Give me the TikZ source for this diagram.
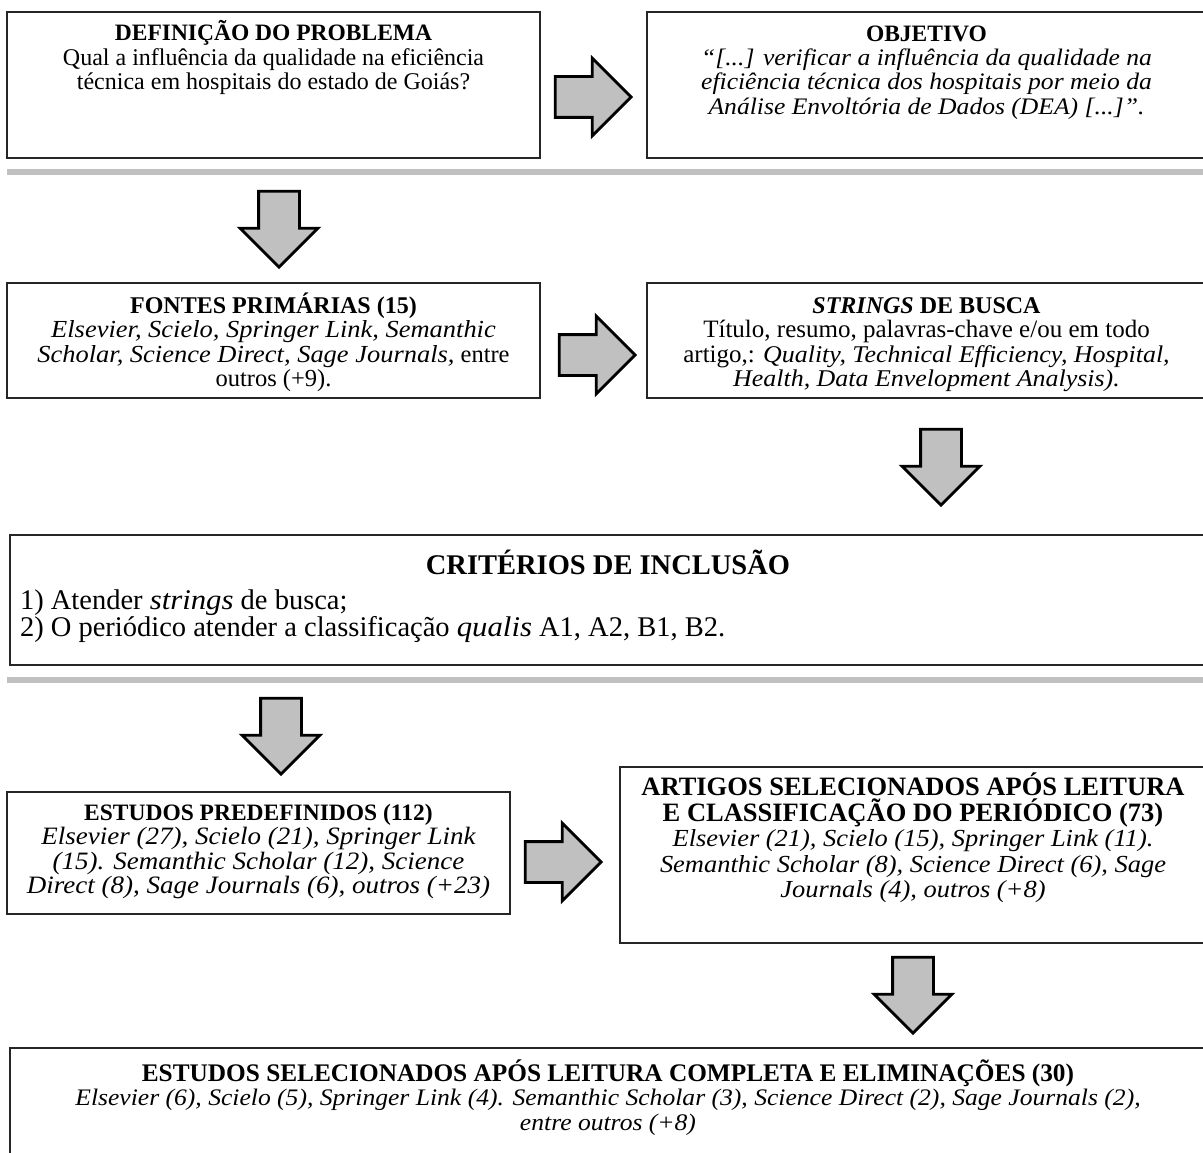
\documentclass[tikz,border=0pt]{standalone}
\usepackage{fontspec}
\setmainfont{Liberation Serif}[ItalicFeatures={FakeStretch=1.08}]
\usetikzlibrary{shapes.arrows,calc}
\definecolor{arrowgray}{HTML}{C0C0C0}
\definecolor{sepgray}{HTML}{C0C0C0}
\newcommand{\tstr}{\rule{0pt}{1em}}
\newcommand{\fs}[2]{\fontsize{#1}{#2}\selectfont}
\lineskiplimit=-60pt
\begin{document}
\begin{tikzpicture}[x=1pt,y=-1pt,
  box/.style={draw=black!85, line width=1.3pt, rectangle, inner sep=0pt, outer sep=0pt, anchor=north west},
  txt/.style={inner sep=0pt, outer sep=0pt, align=center, anchor=north},
  rarrow/.style={single arrow, draw=black, line width=2.8pt, fill=arrowgray, minimum height=76pt, single arrow head extend=18.5pt, inner sep=19pt, outer sep=0pt},
  darrow/.style={rarrow, shape border rotate=270},
  sepline/.style={line width=6pt, draw=sepgray}]
\useasboundingbox (0,0) rectangle (1203,1153);
% boxes
\node[box, minimum width=533pt, minimum height=146pt] (b1) at (7,12) {};
\node[box, minimum width=559pt, minimum height=146pt] (b2) at (647,12) {};
\node[box, minimum width=533pt, minimum height=115pt] (b3) at (7,283) {};
\node[box, minimum width=559pt, minimum height=115pt] (b4) at (647,283) {};
\node[box, minimum width=1196pt, minimum height=130pt] (b5) at (10,535) {};
\node[box, minimum width=503pt, minimum height=122pt] (b6) at (7,792) {};
\node[box, minimum width=586pt, minimum height=176pt] (b7) at (620,767) {};
\node[box, minimum width=1196pt, minimum height=112pt] (b8) at (10,1048) {};
% separators
\draw[sepline] (7,172) -- (1210,172);
\draw[sepline] (7,680) -- (1210,680);
% texts
\node[txt, font=\fs{24}{24.5}] (t1) at ([yshift=-5.5pt]b1.north) {{\fs{23.5}{24.5}\tstr\textbf{DEFINIÇÃO DO PROBLEMA}}\\ Qual a influência da qualidade na eficiência\\ técnica em hospitais do estado de Goiás?};
\node[txt, font=\fs{23.7}{24.5}\itshape] (t2) at ([yshift=-5.5pt]b2.north) {{\fs{23.5}{24.5}\upshape\tstr\textbf{OBJETIVO}}\\ “[...] verificar a influência da qualidade na\\ eficiência técnica dos hospitais por meio da\\ Análise Envoltória de Dados (DEA) [...]”.};
\node[txt, font=\fs{24.5}{24.5}] (t3) at ([yshift=-6pt]b3.north) {{\fs{24}{24.5}\tstr\textbf{FONTES PRIMÁRIAS (15)}}\\ \textit{Elsevier, Scielo, Springer Link, Semanthic}\\ \textit{Scholar, Science Direct, Sage Journals,} entre\\ outros (+9).};
\node[txt, font=\fs{25}{24.5}] (t4) at ([yshift=-6pt]b4.north) {{\fs{24}{24.5}\tstr\textbf{\textit{STRINGS} DE BUSCA}}\\ Título, resumo, palavras-chave e/ou em todo\\ artigo,: \textit{\fs{24}{24.5}Quality, Technical Efficiency, Hospital,}\\ \textit{\fs{24}{24.5}Health, Data Envelopment Analysis).}};
\node[txt, font=\fs{28.5}{30}] (t5) at ([yshift=-11pt]b5.north) {\tstr\textbf{CRITÉRIOS DE INCLUSÃO}};
\node[txt, anchor=north west, align=left, font=\fs{28.5}{27}] (t5b) at (20,581) {\tstr 1) Atender \textit{strings} de busca;\\ 2) O periódico atender a classificação \textit{qualis} A1, A2, B1, B2.};
\node[txt, font=\fs{25}{24.5}\itshape] (t6) at ([yshift=-4.5pt]b6.north) {{\fs{23.5}{24.5}\upshape\tstr\textbf{ESTUDOS PREDEFINIDOS (112)}}\\ Elsevier (27), Scielo (21), Springer Link\\ (15). Semanthic Scholar (12), Science\\ Direct (8), Sage Journals (6), outros (+23)};
\node[txt, font=\fs{26.5}{25.5}] (t7) at ([yshift=-2pt]b7.north) {\tstr\textbf{ARTIGOS SELECIONADOS APÓS LEITURA}\\ \textbf{E CLASSIFICAÇÃO DO PERIÓDICO (73)}\\ \textit{\fs{24.5}{25.5}Elsevier (21), Scielo (15), Springer Link (11).}\\ \textit{\fs{24.5}{25.5}Semanthic Scholar (8), Science Direct (6), Sage}\\ \textit{\fs{24.5}{25.5}Journals (4), outros (+8)}};
\node[txt, font=\fs{23.7}{24.5}\itshape] (t8) at ([yshift=-8pt]b8.north) {{\fs{25.3}{24.5}\upshape\tstr\textbf{ESTUDOS SELECIONADOS APÓS LEITURA COMPLETA E ELIMINAÇÕES (30)}}\\ Elsevier (6), Scielo (5), Springer Link (4). Semanthic Scholar (3), Science Direct (2), Sage Journals (2),\\ entre outros (+8)};
% block arrows
\node[rarrow] (a1) at (583,97) {};
\node[darrow] (a2) at (279,219) {};
\node[rarrow] (a3) at (587,355) {};
\node[darrow] (a4) at (941,457) {};
\node[darrow] (a5) at (281,726) {};
\node[rarrow] (a6) at (553,862) {};
\node[darrow] (a7) at (913,985) {};
\end{tikzpicture}
\end{document}
